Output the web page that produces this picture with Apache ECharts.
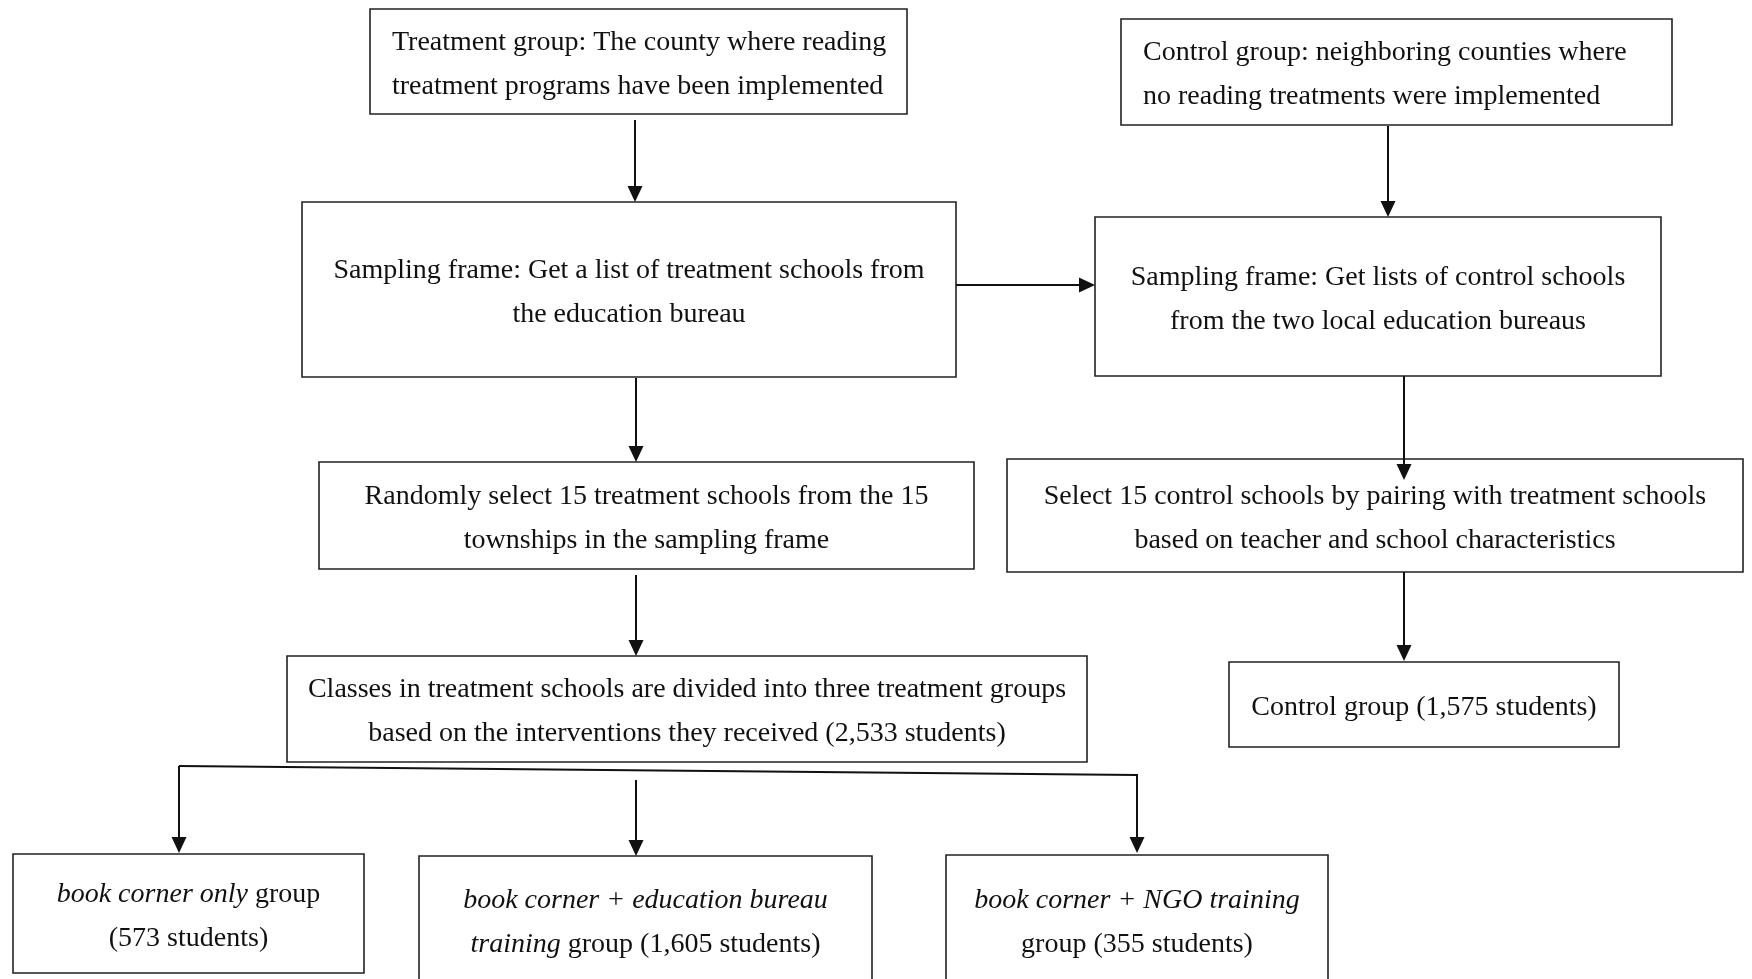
<!DOCTYPE html>
<html>
<head>
<meta charset="utf-8">
<script src="https://cdn.jsdelivr.net/npm/echarts@6/dist/echarts.min.js"></script>
<style>
html,body{margin:0;padding:0;background:#fff;}
#chart{width:1752px;height:979px;}
</style>
</head>
<body>
<div id="chart"></div>
<script>
// ---- content (texts of the flowchart boxes) ----
const boxTexts = [
  "{n|Treatment group: The county where reading}\n{n|treatment programs have been implemented}",
  "{n|Control group: neighboring counties where}\n{n|no reading treatments were implemented}",
  "{n|Sampling frame: Get a list of treatment schools from}\n{n|the education bureau}",
  "{n|Sampling frame: Get lists of control schools}\n{n|from the two local education bureaus}",
  "{n|Randomly select 15 treatment schools from the 15}\n{n|townships in the sampling frame}",
  "{n|Select 15 control schools by pairing with treatment schools}\n{n|based on teacher and school characteristics}",
  "{n|Classes in treatment schools are divided into three treatment groups}\n{n|based on the interventions they received (2,533 students)}",
  "{n|Control group (1,575 students)}",
  "{i|book corner only}{n| group}\n{n|(573 students)}",
  "{i|book corner + education bureau}\n{i|training}{n| group (1,605 students)}",
  "{i|book corner + NGO training}\n{n|group (355 students)}"
];

// ---- layout (box rectangles: x0, y0, x1, y1 in page units; text alignment) ----
const boxRects = [
  [370, 9, 907, 114],
  [1121, 19, 1672, 125],
  [302, 202, 956, 377],
  [1095, 217, 1661, 376],
  [319, 462, 974, 569],
  [1007, 459, 1743, 572],
  [287, 656, 1087, 762],
  [1229, 662, 1619, 747],
  [13, 854, 364, 973],
  [419, 856, 872, 984],
  [946, 855, 1328, 984]
];
const boxAlign = ['left','left','center','center','center','center','center','center','center','center','center'];
const textPadLeft = 22;
const textShiftY = 3;

// ---- connectors (polylines; last point gets an arrowhead when arrow=1) ----
const connectors = [
  {pts: [[635, 120], [635, 202]], arrow: 1},
  {pts: [[1388, 126], [1388, 217]], arrow: 1},
  {pts: [[956, 285], [1095, 285]], arrow: 1},
  {pts: [[636, 378], [636, 462]], arrow: 1},
  {pts: [[1404, 376], [1404, 480]], arrow: 1},
  {pts: [[636, 575], [636, 656]], arrow: 1},
  {pts: [[1404, 572], [1404, 661]], arrow: 1},
  {pts: [[179, 766], [1137, 775], [1137, 853]], arrow: 1},
  {pts: [[179, 766], [179, 853]], arrow: 1},
  {pts: [[636, 780], [636, 856]], arrow: 1}
];

const FONT = '"Liberation Serif", "Times New Roman", serif';
const FS = 28;
const LH = 44;
const rich = {
  n: {fontFamily: FONT, fontSize: FS, lineHeight: LH, fill: '#111'},
  i: {fontFamily: FONT, fontSize: FS, lineHeight: LH, fontStyle: 'italic', fill: '#111'}
};

const boxData = boxRects.map((r, i) => ({value: r, name: String(i)}));
const connData = connectors.map((c, i) => ({value: [c.pts[0][0], c.pts[0][1], i]}));

function renderBox(params, api) {
  const i = params.dataIndex;
  const p0 = api.coord([api.value(0), api.value(1)]);
  const p1 = api.coord([api.value(2), api.value(3)]);
  const x = p0[0], y = p0[1], w = p1[0] - p0[0], h = p1[1] - p0[1];
  const align = boxAlign[i];
  return {
    type: 'group',
    children: [
      {type: 'rect', shape: {x: x, y: y, width: w, height: h},
       style: {fill: '#fff', stroke: '#222', lineWidth: 1.6}},
      {type: 'text', x: align === 'left' ? x + textPadLeft : x + w / 2, y: y + h / 2 + textShiftY,
       style: {text: boxTexts[i], rich: rich, fontFamily: FONT, fontSize: FS, lineHeight: LH,
               align: align, verticalAlign: 'middle', fill: '#111'}}
    ]
  };
}

function renderConn(params, api) {
  const c = connectors[params.dataIndex];
  const pts = c.pts.map(p => api.coord(p));
  const children = [];
  const n = pts.length;
  const tip = pts[n - 1], prev = pts[n - 2];
  const dx = tip[0] - prev[0], dy = tip[1] - prev[1];
  const len = Math.sqrt(dx * dx + dy * dy);
  const ux = dx / len, uy = dy / len;
  const L = 16, W = 7.5;
  const base = [tip[0] - ux * L, tip[1] - uy * L];
  const linePts = pts.slice(0, n - 1).concat([c.arrow ? [tip[0] - ux * (L - 2), tip[1] - uy * (L - 2)] : tip]);
  children.push({type: 'polyline', shape: {points: linePts},
    style: {stroke: '#111', lineWidth: 2, fill: null}});
  if (c.arrow) {
    children.push({type: 'polygon', shape: {points: [
      tip, [base[0] - uy * W, base[1] + ux * W], [base[0] + uy * W, base[1] - ux * W]]},
      style: {fill: '#111'}});
  }
  return {type: 'group', children: children};
}

const chart = echarts.init(document.getElementById('chart'), null, {renderer: 'canvas'});
chart.setOption({
  backgroundColor: '#fff',
  animation: false,
  grid: {left: 0, right: 0, top: 0, bottom: 0},
  xAxis: {type: 'value', min: 0, max: 1752, show: false},
  yAxis: {type: 'value', min: 0, max: 979, inverse: true, show: false},
  series: [
    {type: 'custom', name: 'boxes', renderItem: renderBox, data: boxData,
     encode: {x: [0, 2], y: [1, 3]}, clip: false, z: 2},
    {type: 'custom', name: 'connectors', renderItem: renderConn, data: connData,
     encode: {x: 0, y: 1}, clip: false, z: 3}
  ]
});
</script>
</body>
</html>
